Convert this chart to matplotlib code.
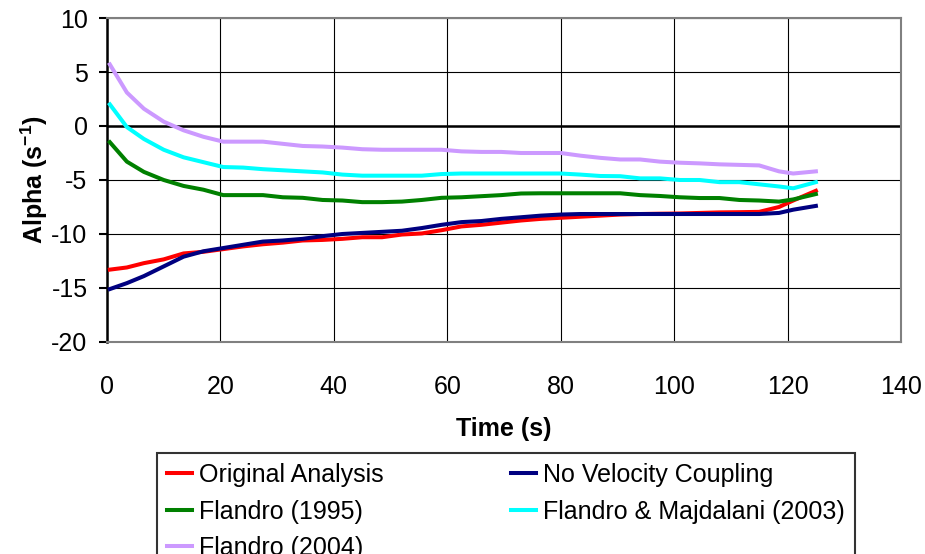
import numpy as np
from matplotlib import pyplot as plt

plt.rcParams['font.family'] = ['Liberation Sans', 'DejaVu Sans']
plt.rcParams['axes.unicode_minus'] = False
plt.rcParams['mathtext.fontset'] = 'custom'
plt.rcParams['mathtext.rm'] = 'Liberation Sans'
plt.rcParams['mathtext.bf'] = 'Liberation Sans:bold'

# time points (s)
time = [0.5, 3.5, 6.5, 10, 13.5, 17, 20.5, 24, 27.5, 31, 34.5, 38, 41.5, 45,
        48.5, 52, 55.5, 59, 62.5, 66, 69.5, 73, 76.5, 80, 83.5, 87, 90.5, 94,
        97.5, 101, 104.5, 108, 111.5, 115, 118.5, 121, 125]

original = [-13.3, -13.1, -12.7, -12.35, -11.8, -11.65, -11.4, -11.15, -10.95, -10.8,
            -10.6, -10.55, -10.45, -10.3, -10.3, -10.05, -9.95, -9.65, -9.3, -9.15,
            -8.95, -8.75, -8.6, -8.5, -8.4, -8.3, -8.2, -8.15, -8.12, -8.1,
            -8.05, -8.0, -7.98, -7.95, -7.5, -6.9, -6.0]
no_velocity = [-15.1, -14.55, -13.9, -13.0, -12.1, -11.6, -11.3, -11.0, -10.7, -10.6,
               -10.45, -10.2, -10.0, -9.9, -9.8, -9.7, -9.45, -9.15, -8.9, -8.8,
               -8.6, -8.45, -8.3, -8.2, -8.15, -8.15, -8.15, -8.15, -8.15, -8.15,
               -8.15, -8.15, -8.15, -8.15, -8.05, -7.75, -7.4]
flandro_1995 = [-1.5, -3.3, -4.25, -5.0, -5.55, -5.9, -6.4, -6.4, -6.4, -6.6,
                -6.65, -6.85, -6.9, -7.05, -7.05, -7.0, -6.85, -6.65, -6.6, -6.5,
                -6.4, -6.25, -6.23, -6.23, -6.23, -6.23, -6.23, -6.4, -6.48, -6.6,
                -6.67, -6.67, -6.85, -6.9, -7.0, -6.8, -6.3]
flandro_majdalani = [2.0, -0.1, -1.2, -2.2, -2.9, -3.35, -3.8, -3.85, -4.0, -4.1,
                     -4.2, -4.3, -4.5, -4.6, -4.6, -4.6, -4.6, -4.45, -4.4, -4.4,
                     -4.4, -4.4, -4.4, -4.4, -4.5, -4.63, -4.65, -4.85, -4.85, -5.0,
                     -5.0, -5.2, -5.2, -5.4, -5.6, -5.77, -5.2]
flandro_2004 = [5.7, 3.1, 1.6, 0.4, -0.4, -1.0, -1.45, -1.45, -1.45, -1.65,
                -1.85, -1.9, -2.0, -2.15, -2.2, -2.2, -2.2, -2.2, -2.35, -2.4,
                -2.4, -2.5, -2.5, -2.5, -2.75, -2.95, -3.1, -3.1, -3.3, -3.4,
                -3.46, -3.55, -3.6, -3.65, -4.2, -4.4, -4.2]

fig = plt.figure(figsize=(9.25, 5.54), dpi=100)
ax = fig.add_axes([0.1157, 0.3827, 0.8583, 0.5848])

ax.set_xlim(0, 140)
ax.set_ylim(-20, 10)
ax.set_xticks(np.arange(0, 141, 20))
ax.set_yticks(np.arange(-20, 11, 5))
ax.grid(True, color='black', linewidth=0.8)
ax.set_axisbelow(True)
ax.axhline(0, color='black', linewidth=1.8, zorder=1)

for s in ['top', 'right', 'bottom']:
    ax.spines[s].set_color('#808080')
    ax.spines[s].set_linewidth(1.5)
ax.spines['left'].set_color('black')
ax.spines['left'].set_linewidth(1.8)

ax.tick_params(axis='x', length=0, pad=24, labelsize=18)
ax.tick_params(axis='y', length=6, width=1.5, pad=8, labelsize=18)

lw = 2.9
l_orig, = ax.plot(time, original, color='#FF0000', linewidth=lw, zorder=3)
l_nvc, = ax.plot(time, no_velocity, color='#000080', linewidth=lw, zorder=4)
l_95, = ax.plot(time, flandro_1995, color='#008000', linewidth=lw, zorder=3)
l_fm, = ax.plot(time, flandro_majdalani, color='#00FFFF', linewidth=lw, zorder=3)
l_04, = ax.plot(time, flandro_2004, color='#CC99FF', linewidth=lw, zorder=3)

ax.set_xlabel('Time (s)', fontsize=18, fontweight='bold', labelpad=13)
ax.set_ylabel('Alpha (s$^{\\mathbf{-1}}$)', fontsize=18, fontweight='bold', labelpad=1)

handles = [l_orig, l_95, l_04, l_nvc, l_fm]
labels = ['Original Analysis', 'Flandro (1995)', 'Flandro (2004)',
          'No Velocity Coupling', 'Flandro & Majdalani (2003)']
leg = fig.legend(handles, labels, ncol=2, loc='upper left',
                 bbox_to_anchor=(157 / 925, 1 - 453 / 554), fontsize=18,
                 frameon=True, fancybox=False, edgecolor='black',
                 handlelength=1.0, handletextpad=0.28, columnspacing=5.1,
                 labelspacing=0.5, borderpad=0.4, borderaxespad=0)
leg.get_frame().set_linewidth(1.5)

fig.savefig('out.png', dpi=100)
